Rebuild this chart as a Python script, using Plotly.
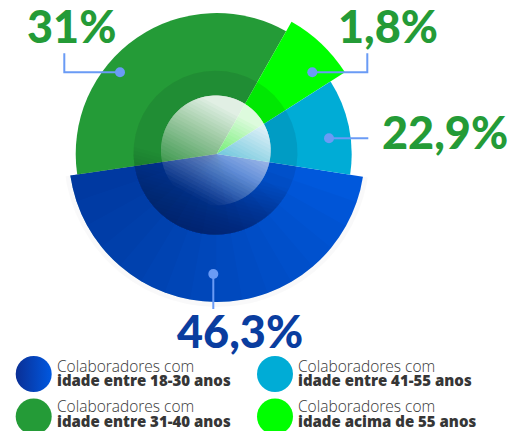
import numpy as np
import plotly.graph_objects as go

# ---------------- dados ----------------
legenda_l1 = "Colaboradores com"
legenda_l2 = ["idade entre 18-30 anos", "idade entre 31-40 anos",
              "idade acima de 55 anos", "idade entre 41-55 anos"]
percentuais = [46.3, 31.0, 1.8, 22.9]
rotulos = ["46,3%", "31%", "1,8%", "22,9%"]
abertura_graus = [162.8, 127.9, 28.0, 41.3]   # abertura angular desenhada
raios = [148, 141, 152, 135]                   # raio desenhado de cada fatia
cores = ["#0058dc", "#249b37", "#00ff00", "#00acd6"]
cores_rotulo = ["#0a3d9f", "#249b37", "#249b37", "#249b37"]
inicio_graus = 98.8

W, H = 512, 431
CX, CY = 216.7, 154.0
RMAX = 153.0

ab = np.array(abertura_graus)
fim = inicio_graus + np.cumsum(ab)
centros = (fim - ab / 2) % 360

fig = go.Figure()

fig.add_trace(go.Barpolar(
    r=raios, theta=centros, width=abertura_graus,
    marker=dict(color=cores, line=dict(width=0)),
    hoverinfo="skip", showlegend=False))

# sombreamento decorativo da fatia azul (mais escuro à esquerda)
n_s = 16
borda_esq = inicio_graus + abertura_graus[0]
exts = [abertura_graus[0] * (k + 1) / n_s for k in range(n_s)]
fig.add_trace(go.Barpolar(
    r=[raios[0]] * n_s, theta=[borda_esq - e / 2 for e in exts], width=exts,
    marker=dict(color="rgba(0,10,60,0.022)", line=dict(width=0)),
    hoverinfo="skip", showlegend=False))

# legenda personalizada
col_x = [33.7, 275.0]
row_y = [374.0, 416.5]
pos = [(0, 0), (0, 1), (1, 1), (1, 0)]  # (coluna, linha) por categoria
lx = [col_x[c] for c, r in pos]
ly = [row_y[r] for c, r in pos]
fig.add_trace(go.Scatter(
    x=lx[1:], y=ly[1:], mode="markers",
    marker=dict(size=36, color=cores[1:], line=dict(width=0)),
    hoverinfo="skip", showlegend=False))
fig.add_trace(go.Scatter(
    x=[lx[0]], y=[ly[0]], mode="markers",
    marker=dict(size=36, color="#0a2f95", line=dict(width=0),
                gradient=dict(type="horizontal", color="#0058e0")),
    hoverinfo="skip", showlegend=False))

shapes = []


# ---- decoração: anel escuro e brilho central com gradiente em degraus ----
def segmento(cx, cy, R, dir_graus, p, n=48):
    """Segmento circular do lado 'dir' da corda na projeção p (-1..1)."""
    half = np.arccos(np.clip(p, -1.0, 1.0))
    phi = np.linspace(-half, half, n) + np.deg2rad(dir_graus)
    xs = cx + R * np.cos(phi)
    ys = cy - R * np.sin(phi)
    return "M " + " L ".join(f"{x:.2f},{y:.2f}" for x, y in zip(xs, ys)) + " Z"


def gradiente(cx, cy, R, dir_graus, ps, alvo, rgb):
    prev = 0.0
    for p, a in zip(ps, alvo):
        a = min(a, 0.97)
        inc = 1 - (1 - a) / (1 - prev) if a > prev else 0.0
        prev = max(prev, a)
        if inc <= 0.001:
            continue
        shapes.append(dict(type="path", xref="x", yref="y", layer="above",
                           path=segmento(cx, cy, R, dir_graus, p),
                           fillcolor=f"rgba({rgb},{inc:.4f})", line=dict(width=0)))


# anel escuro: leve em cima, mais escuro embaixo (levemente à esquerda)
ps_a = np.concatenate([[-1.0], np.linspace(0.15, 0.95, 20)])
alvo_a = [0.09] + [0.09 + 0.30 * (p - 0.15) / 0.8 for p in ps_a[1:]]
gradiente(215.5, 152.7, 82, 255, ps_a, alvo_a, "0,0,25")

# brilho: branco em cima/à direita, transparente embaixo/à esquerda
ps_b = np.linspace(-0.92, 0.85, 30)
alvo_b = [min(0.88, max(0.0, 0.5 + 0.52 * p)) for p in ps_b]
gradiente(215.8, 150.5, 55, 62, ps_b, alvo_b, "255,255,255")

# linhas de chamada
LC = "#6a9bf5"
chamadas = [
    [(213.3, 274.0), (213.3, 309.0)],
    [(120.0, 72.3), (64.3, 72.3), (64.3, 53.3)],
    [(312.3, 72.3), (367.3, 72.3), (367.3, 53.3)],
    [(329.0, 138.3), (368.3, 138.3)],
]
for pts in chamadas:
    path = "M " + " L ".join(f"{x} {y}" for x, y in pts)
    shapes.append(dict(type="path", xref="x", yref="y", layer="above", path=path,
                       line=dict(color=LC, width=2)))
    x, y = pts[0]
    shapes.append(dict(type="circle", xref="x", yref="y", layer="above",
                       x0=x - 5, x1=x + 5, y0=y - 5, y1=y + 5,
                       fillcolor=LC, line=dict(width=0)))

annotations = []
FS = 45
rot_pos = [(176.0, 348.0), (26.0, 43.0), (337.0, 43.0), (381.0, 149.0)]  # esquerda, linha de base
for txt, (x, yb), c in zip(rotulos, rot_pos, cores_rotulo):
    annotations.append(dict(
        x=x, y=yb - 0.387 * FS, xref="x", yref="y", xanchor="left", yanchor="middle",
        text=txt, showarrow=False, borderpad=0,
        font=dict(family="Lato", size=FS, color=c, weight=900)))

FL1, FL2 = 15.5, 15.0
base1 = [371.7, 412.5]
base2 = [386.0, 426.5]
tx = [56.0, 297.0]
for (c, r), l2 in zip(pos, legenda_l2):
    annotations.append(dict(
        x=tx[c], y=base1[r] - 0.388 * FL1, xref="x", yref="y", xanchor="left", yanchor="middle",
        text=legenda_l1, showarrow=False, borderpad=0,
        font=dict(family="Open Sans", size=FL1, color="#363636", weight=300)))
    annotations.append(dict(
        x=tx[c], y=base2[r] - 0.388 * FL2, xref="x", yref="y", xanchor="left", yanchor="middle",
        text=l2, showarrow=False, borderpad=0,
        font=dict(family="Open Sans", size=FL2, color="#363636", weight=800)))

fig.update_layout(
    width=W, height=H, margin=dict(l=0, r=0, t=0, b=0),
    paper_bgcolor="white", plot_bgcolor="rgba(0,0,0,0)",
    showlegend=False,
    polar=dict(
        domain=dict(x=[(CX - RMAX) / W, (CX + RMAX) / W],
                    y=[1 - (CY + RMAX) / H, 1 - (CY - RMAX) / H]),
        bgcolor="rgba(0,0,0,0)", hole=0,
        radialaxis=dict(range=[0, RMAX], visible=False, showgrid=False),
        angularaxis=dict(visible=False, rotation=90, direction="clockwise", showgrid=False),
    ),
    xaxis=dict(range=[0, W], visible=False, domain=[0, 1], fixedrange=True),
    yaxis=dict(range=[H, 0], visible=False, domain=[0, 1], fixedrange=True),
    shapes=shapes, annotations=annotations,
)

fig.write_html("out.html")
